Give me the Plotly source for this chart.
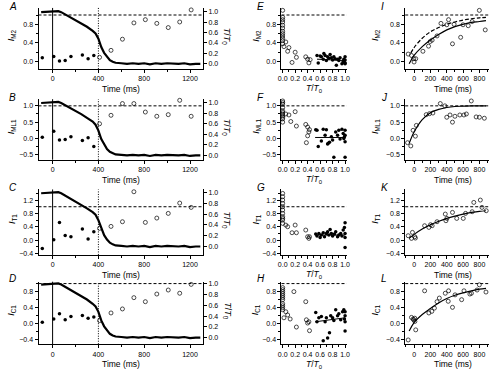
import plotly.graph_objects as go

W, H = 492, 371

# ================= DATA =================
# Left panels (A-D): normalised tension trace T/T0 vs time (ms)
trace_t = [-100, -50, 0, 50, 75, 100, 150, 200, 250, 300, 350, 375, 400, 425, 450, 475, 500, 525, 550,
           600, 650, 700, 750, 800, 850, 900, 950, 1000, 1050, 1100, 1150, 1200, 1250, 1290]
A_tt = [0.99, 1.0, 1.01, 1.01, 0.99, 0.96, 0.90, 0.84, 0.78, 0.71, 0.63, 0.58, 0.48, 0.32, 0.21, 0.13, 0.07, 0.04, 0.02,
        0.01, 0.0, 0.01, 0.0, 0.01, -0.01, 0.01, 0.0, 0.01, 0.0, 0.0, 0.01, -0.01, 0.0, 0.0]
B_tt = [0.99, 1.0, 1.01, 1.01, 0.99, 0.96, 0.91, 0.85, 0.78, 0.71, 0.64, 0.58, 0.47, 0.31, 0.20, 0.12, 0.07, 0.04, 0.02,
        0.01, 0.0, 0.01, 0.0, 0.01, -0.01, 0.01, 0.0, 0.01, 0.0, 0.0, 0.01, -0.01, 0.0, 0.0]
C_tt = [0.99, 1.0, 1.01, 1.01, 0.99, 0.96, 0.90, 0.84, 0.78, 0.71, 0.64, 0.59, 0.49, 0.33, 0.21, 0.13, 0.07, 0.04, 0.02,
        0.01, 0.0, 0.01, 0.0, 0.01, -0.01, 0.01, 0.0, 0.01, 0.0, 0.0, 0.01, -0.01, 0.0, 0.0]
D_tt = [0.99, 1.0, 1.01, 1.01, 0.99, 0.96, 0.90, 0.84, 0.78, 0.71, 0.63, 0.58, 0.48, 0.32, 0.21, 0.13, 0.07, 0.04, 0.02,
        0.01, 0.0, 0.01, 0.0, 0.01, -0.01, 0.01, 0.0, 0.01, 0.0, 0.0, 0.01, -0.01, 0.0, 0.0]

pre_t = [-90, 10, 60, 110, 160, 260, 310, 360]
post_t = [410, 510, 610, 710, 810, 910, 1010, 1110, 1210]
A_pre = [0.08, 0.11, 0.01, 0.02, 0.11, 0.14, 0.06, 0.13]
A_post = [0.09, 0.24, 0.48, 0.83, 0.90, 0.82, 0.73, 0.85, 1.11]
B_pre = [0.04, 0.22, -0.05, -0.03, 0.05, -0.06, 0.02, -0.25]
B_post = [0.45, 0.71, 1.07, 1.07, 0.81, 0.68, 0.73, 1.17, 0.68]
C_pre = [-0.25, 0.01, 0.53, 0.14, 0.10, 0.33, 0.03, 0.25]
C_post = [0.35, 0.41, 0.55, 1.45, 0.53, 0.66, 0.80, 1.11, 0.98]
D_pre = [0.04, 0.12, 0.25, 0.10, 0.18, 0.21, 0.14, 0.17]
D_post = [0.08, 0.27, 0.37, 0.65, 0.55, 0.74, 0.84, 0.76, 0.98]

# Middle panels (E-H): intensity vs T/T0
E_open_x = [0, 0, 0, 0, 0, 0, 0, 0, 0, 0, 0, 0, 0.02, 0.05, 0.08, 0.10, 0.15, 0.20, 0.22, 0.37, 0.40, 0.42, 0.44]
E_open_y = [1.1, 0.95, 0.9, 0.85, 0.78, 0.72, 0.65, 0.6, 0.55, 0.5, 0.45, 0.38, 0.32, 0.42, 0.22, 0.3, -0.02, 0.2, 0.09, 0.1, 0.05, -0.03, 0.04]
E_fill_x = [0.55, 0.57, 0.6, 0.62, 0.65, 0.66, 0.68, 0.7, 0.72, 0.74, 0.76, 0.78, 0.8, 0.82, 0.84, 0.86, 0.88, 0.9, 0.92, 0.95, 0.97, 0.98, 0.99, 1.0, 1.0, 1.0, 1.0]
E_fill_y = [0.13, -0.03, 0.12, 0.1, 0.05, 0.17, 0.13, 0.02, 0.1, 0.07, 0.15, 0.08, 0.03, 0.1, 0.06, -0.08, 0.05, 0.02, 0.08, -0.05, 0.0, 0.05, -0.02, 0.1, 0.03, -0.05, -0.03]
E_fit_x = [0.55, 1.0]
E_fit_y = [0.05, 0.02]

F_open_x = [0, 0, 0, 0, 0, 0, 0, 0, 0, 0, 0, 0.05, 0.1, 0.13, 0.2, 0.22, 0.37, 0.4, 0.42, 0.4, 0.38, 0.43]
F_open_y = [1.15, 1.1, 1.05, 0.95, 0.85, 0.8, 0.75, 0.7, 0.65, 0.6, 0.5, 0.75, 0.72, 0.52, 0.82, 0.38, 0.43, 0.35, 0.2, 0.08, -0.13, 0.27]
F_fill_x = [0.53, 0.55, 0.57, 0.62, 0.65, 0.68, 0.7, 0.72, 0.73, 0.75, 0.78, 0.8, 0.82, 0.85, 0.88, 0.9, 0.92, 0.95, 0.97, 0.98, 1.0, 1.0, 1.0, 1.0, 0.99]
F_fill_y = [0.27, 0.25, -0.25, -0.08, 0.28, 0.1, 0.27, -0.17, -0.15, -0.12, 0.05, -0.05, -0.58, 0.2, 0.1, 0.25, -0.02, 0.28, 0.15, 0.0, 0.25, 0.1, -0.1, -0.58, 0.05]
F_fit_x = [0.52, 1.0]
F_fit_y = [0.03, 0.03]

G_open_x = [0, 0, 0, 0, 0, 0, 0, 0, 0, 0, 0, 0.05, 0.08, 0.15, 0.2, 0.22, 0.37, 0.4, 0.42, 0.43]
G_open_y = [1.4, 1.3, 1.2, 1.1, 1.0, 0.9, 0.8, 0.7, 0.65, 0.6, 0.5, 0.45, 0.4, 0.22, 0.45, 0.22, 0.3, 0.1, 0.05, 0.1]
G_fill_x = [0.53, 0.55, 0.58, 0.6, 0.62, 0.65, 0.67, 0.7, 0.72, 0.74, 0.76, 0.78, 0.8, 0.83, 0.85, 0.88, 0.9, 0.93, 0.95, 0.97, 0.99, 1.0, 1.0, 1.0, 1.0]
G_fill_y = [0.18, 0.12, 0.2, 0.08, 0.15, 0.22, 0.1, 0.2, 0.25, 0.15, 0.32, 0.2, 0.12, 0.18, 0.25, 0.1, 0.15, 0.2, 0.12, 0.3, 0.38, 0.52, 0.2, 0.08, -0.22]
G_fit_x = [0.52, 1.0]
G_fit_y = [0.15, 0.15]

H_open_x = [0, 0, 0, 0, 0, 0, 0, 0, 0, 0, 0, 0.02, 0.05, 0.08, 0.12, 0.18, 0.22, 0.37, 0.38, 0.4, 0.42, 0.43]
H_open_y = [0.9, 0.85, 0.8, 0.75, 0.7, 0.65, 0.6, 0.5, 0.45, 0.4, 0.35, 0.15, 0.3, 0.22, 0.12, 0.8, -0.08, 0.55, 0.1, 0.02, 0.05, -0.17]
H_fill_x = [0.53, 0.55, 0.58, 0.62, 0.65, 0.68, 0.7, 0.72, 0.75, 0.77, 0.8, 0.82, 0.85, 0.88, 0.9, 0.93, 0.96, 0.98, 1.0, 1.0, 1.0, 1.0, 0.99]
H_fill_y = [0.28, 0.05, 0.15, 0.18, -0.42, 0.05, 0.15, -0.35, -0.22, 0.2, 0.15, 0.08, 0.35, 0.2, 0.25, 0.1, 0.3, 0.35, 0.3, 0.2, 0.05, -0.18, 0.12]
H_fit_x = [0.52, 1.0]
H_fit_y = [0.05, 0.15]

# Right panels (I-L): recovery vs time after relaxation (ms)
I_t = [-72, -32, -4, 0, 20, 108, 177, 197, 221, 281, 329, 401, 422, 470, 490, 570, 599, 663, 711, 799, 871]
I_y = [0.16, 0.13, 0.06, -0.01, 0.06, 0.22, 0.33, 0.43, 0.46, 0.55, 0.82, 0.79, 0.90, 0.38, 0.80, 0.52, 0.79, 0.77, 0.86, 1.10, 0.68]
J_t = [-80, -40, -12, 16, 28, 149, 189, 230, 321, 377, 400, 440, 470, 500, 560, 610, 640, 700, 760, 800, 860]
J_y = [-0.13, -0.23, 0.25, 0.07, 0.40, 0.73, 0.76, 0.78, 1.07, 1.0, 0.65, 0.72, 0.5, 0.68, 0.72, 0.72, 0.75, 1.15, 0.66, 0.65, 0.62]
K_t = [-72, -32, -20, 8, 16, 129, 181, 201, 221, 281, 382, 390, 402, 470, 522, 602, 630, 711, 731, 811, 831, 883]
K_y = [0.13, 0.05, 0.23, 0.1, 0.06, 0.43, 0.38, 0.46, 0.43, 0.55, 0.78, 0.58, 0.65, 0.83, 0.65, 0.65, 0.80, 0.85, 1.13, 1.2, 0.98, 0.88]
L_t = [-72, -32, -12, -4, 8, 10, 20, 129, 181, 217, 249, 281, 309, 382, 418, 422, 470, 502, 582, 611, 683, 702, 771, 799, 880]
L_y = [-0.40, 0.16, 0.12, 0.10, 0.14, 0.06, -0.15, 0.82, 0.27, 0.31, 0.39, 0.55, 0.64, 0.76, 0.56, 0.82, 0.41, 0.72, 0.60, 0.82, 0.74, 0.76, 0.84, 0.97, 0.79]

fit_t = [-60, 0, 100, 200, 300, 400, 500, 600, 700, 800, 880]
I_fit = [-0.05, 0.13, 0.32, 0.46, 0.58, 0.68, 0.75, 0.80, 0.84, 0.86, 0.88]
I_fit2_t = [-40, 0, 100, 200, 300, 400, 500, 600, 700, 800, 880]
I_fit2 = [0.18, 0.30, 0.50, 0.64, 0.73, 0.80, 0.85, 0.89, 0.92, 0.94, 0.95]
J_fit = [-0.15, 0.20, 0.58, 0.79, 0.89, 0.95, 0.98, 0.99, 1.0, 1.0, 1.0]
K_fit = [0.05, 0.17, 0.33, 0.46, 0.56, 0.65, 0.72, 0.78, 0.83, 0.86, 0.88]
L_fit = [-0.18, 0.03, 0.23, 0.38, 0.52, 0.63, 0.71, 0.77, 0.82, 0.86, 0.88]

row_titles = ["<i>I</i><sub>M2</sub>", "<i>I</i><sub>ML1</sub>", "<i>I</i><sub>T1</sub>", "<i>I</i><sub>C1</sub>"]
letters = [["A", "E", "I"], ["B", "F", "J"], ["C", "G", "K"], ["D", "H", "L"]]

# ================= LAYOUT GEOMETRY (pixels) =================
col_x = [(35, 202), (281.5, 347.5), (407, 492)]
row_y = [(7, 68.5), (99, 160), (190, 256), (283, 346)]
row_cal = [((0.0, 61.0), (0.8, 23.5)), ((1.0, 105.7), (-0.5, 155.0)),
           ((0.0, 241.0), (1.2, 200.7)), ((0.8, 293.0), (-0.4, 341.7))]
row_dtick = [0.4, 0.5, 0.4, 0.4]
tt_cal = [((0, 63.3), (1, 10.7)), ((0, 155.7), (1, 102.3)), ((0, 247.5), (1, 193.3)), ((0, 339.3), (1, 285.3))]
col_cal = [((0, 49.3), (1200, 188.7)), ((0, 282.7), (1, 346.0)), ((0, 416.0), (800, 482.3))]
letter_y = [6, 97, 188, 280]


def lin(cal, p):
    (v0, p0), (v1, p1) = cal
    return v0 + (p - p0) * (v1 - v0) / (p1 - p0)


FONT = "Liberation Sans, Arial, sans-serif"
fig = go.Figure()

ax_common = dict(showline=True, linecolor="black", linewidth=1, ticks="outside", ticklen=3,
                 tickwidth=1, tickcolor="black", showgrid=False, zeroline=False,
                 tickfont=dict(size=7, family=FONT, color="black"))

OPEN = dict(symbol="circle-open", color="black", size=4, line=dict(width=0.7))
FILL = dict(color="black", size=3.5)

layout = {}
shapes = []
annotations = []

for r in range(4):
    for c in range(3):
        i = r * 3 + c + 1
        xs = "" if i == 1 else str(i)
        x0, x1 = col_x[c]
        y0, y1 = row_y[r]
        xr = [lin(col_cal[c], x0), lin(col_cal[c], x1)]
        yr = [lin(row_cal[r], y1), lin(row_cal[r], y0)]
        if c == 0:
            xd, xm = 400, 200
        elif c == 1:
            xd, xm = 0.2, 0.1
        else:
            xd, xm = 200, 100
        xa = dict(ax_common, domain=[x0 / W, x1 / W], range=xr, anchor="y" + xs,
                  dtick=xd, tick0=0, minor=dict(dtick=xm, ticklen=2, tickcolor="black", ticks="outside"))
        if c == 1:
            xa["tickformat"] = ".1f"
        ya = dict(ax_common, domain=[1 - y1 / H, 1 - y0 / H], range=yr, anchor="x" + xs,
                  dtick=row_dtick[r], tick0=0, tickformat=".1f",
                  minor=dict(dtick=row_dtick[r] / 2, ticklen=2, tickcolor="black", ticks="outside"))
        layout["xaxis" + xs] = xa
        layout["yaxis" + xs] = ya

        shapes.append(dict(type="line", xref="x" + xs + " domain", yref="y" + xs, x0=0, x1=1, y0=1.0, y1=1.0,
                           line=dict(color="black", width=1, dash="3px,2px")))
        lx = [3, 255, 380][c]
        annotations.append(dict(text="<i>%s</i>" % letters[r][c], x=lx / W, y=1 - letter_y[r] / H, xref="paper",
                                yref="paper", showarrow=False, xanchor="left", yanchor="middle",
                                font=dict(size=10, family=FONT, color="black")))
        tx = [8, 256, 377][c]
        annotations.append(dict(text=row_titles[r], x=tx / W, y=1 - ((y0 + y1) / 2 - 3) / H, xref="paper",
                                yref="paper", showarrow=False, textangle=-90, xanchor="center", yanchor="middle",
                                font=dict(size=9, family=FONT, color="black")))
        xt = "Time (ms)" if c != 1 else "<i>T</i>/<i>T</i><sub>0</sub>"
        annotations.append(dict(text=xt, x=((x0 + x1) / 2 + (0 if c != 2 else 6)) / W, y=1 - (y1 + 20) / H,
                                xref="paper", yref="paper", showarrow=False, xanchor="center", yanchor="middle",
                                font=dict(size=8.5, family=FONT, color="black")))

tt_series = [A_tt, B_tt, C_tt, D_tt]
pre_series = [A_pre, B_pre, C_pre, D_pre]
post_series = [A_post, B_post, C_post, D_post]
for r in range(4):
    i = r * 3 + 1
    xs = "" if i == 1 else str(i)
    yn = 12 + r + 1
    y0, y1 = row_y[r]
    layout["yaxis%d" % yn] = dict(ax_common, domain=[1 - y1 / H, 1 - y0 / H], overlaying="y" + xs, side="right",
                                  anchor="x" + xs, range=[lin(tt_cal[r], y1), lin(tt_cal[r], y0)], dtick=0.2,
                                  tick0=0, tickformat=".1f")
    annotations.append(dict(text="<i>T</i>/<i>T</i><sub>0</sub>", x=226 / W, y=1 - ((y0 + y1) / 2 - 2) / H,
                            xref="paper", yref="paper", showarrow=False, textangle=90, xanchor="center",
                            yanchor="middle", font=dict(size=9, family=FONT, color="black")))
    shapes.append(dict(type="line", xref="x" + xs, yref="y" + xs + " domain", x0=0, x1=0, y0=0, y1=1,
                       line=dict(color="black", width=1)))
    shapes.append(dict(type="line", xref="x" + xs, yref="y" + xs + " domain", x0=400, x1=400, y0=0, y1=1,
                       line=dict(color="black", width=1, dash="1px,1.5px")))
    fig.add_trace(go.Scatter(x=trace_t, y=tt_series[r], mode="lines", xaxis="x" + xs, yaxis="y%d" % yn,
                             line=dict(color="black", width=2.2), showlegend=False))
    fig.add_trace(go.Scatter(x=pre_t, y=pre_series[r], mode="markers", xaxis="x" + xs, yaxis="y" + xs,
                             marker=FILL, showlegend=False, cliponaxis=False))
    fig.add_trace(go.Scatter(x=post_t, y=post_series[r], mode="markers", xaxis="x" + xs, yaxis="y" + xs,
                             marker=OPEN, showlegend=False, cliponaxis=False))

mid = [(E_open_x, E_open_y, E_fill_x, E_fill_y, E_fit_x, E_fit_y),
       (F_open_x, F_open_y, F_fill_x, F_fill_y, F_fit_x, F_fit_y),
       (G_open_x, G_open_y, G_fill_x, G_fill_y, G_fit_x, G_fit_y),
       (H_open_x, H_open_y, H_fill_x, H_fill_y, H_fit_x, H_fit_y)]
for r, (ox, oy, fx, fy, lx_, ly_) in enumerate(mid):
    xs = str(r * 3 + 2)
    fig.add_trace(go.Scatter(x=ox, y=oy, mode="markers", xaxis="x" + xs, yaxis="y" + xs,
                             marker=OPEN, showlegend=False, cliponaxis=False))
    fig.add_trace(go.Scatter(x=fx, y=fy, mode="markers", xaxis="x" + xs, yaxis="y" + xs,
                             marker=FILL, showlegend=False, cliponaxis=False))
    fig.add_trace(go.Scatter(x=lx_, y=ly_, mode="lines", xaxis="x" + xs, yaxis="y" + xs,
                             line=dict(color="black", width=1), showlegend=False))

rdat = [(I_t, I_y, I_fit), (J_t, J_y, J_fit), (K_t, K_y, K_fit), (L_t, L_y, L_fit)]
for r, (tt, yy, ff) in enumerate(rdat):
    xs = str(r * 3 + 3)
    fig.add_trace(go.Scatter(x=tt, y=yy, mode="markers", xaxis="x" + xs, yaxis="y" + xs,
                             marker=OPEN, showlegend=False, cliponaxis=False))
    fig.add_trace(go.Scatter(x=fit_t, y=ff, mode="lines", xaxis="x" + xs, yaxis="y" + xs,
                             line=dict(color="black", width=1.2, shape="spline"), showlegend=False))
    if r == 0:
        fig.add_trace(go.Scatter(x=I_fit2_t, y=I_fit2, mode="lines", xaxis="x3", yaxis="y3",
                                 line=dict(color="black", width=1.2, dash="4px,2px", shape="spline"),
                                 showlegend=False))

fig.update_layout(width=W, height=H, margin=dict(l=0, r=0, t=0, b=0), plot_bgcolor="white",
                  paper_bgcolor="white", showlegend=False, shapes=shapes, annotations=annotations, **layout)
fig.write_html("out.html", config={"displayModeBar": False},
               post_script="document.body.style.margin='0';document.body.style.overflow='hidden';")
